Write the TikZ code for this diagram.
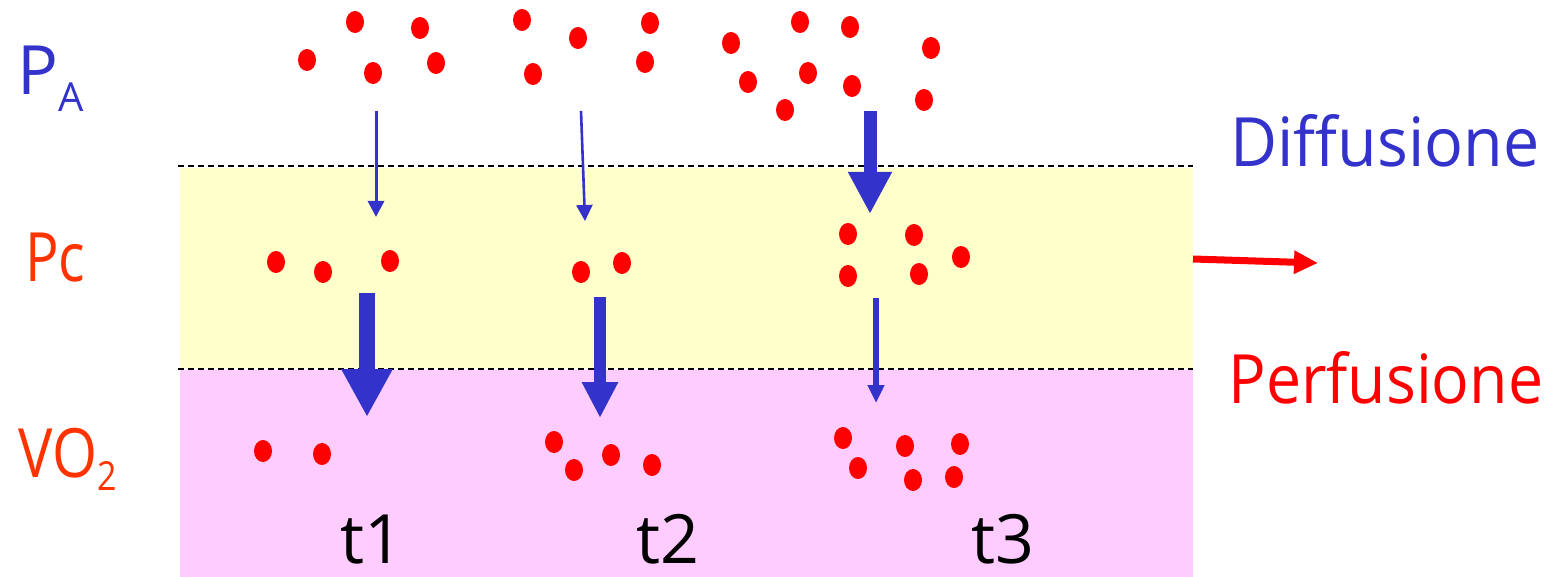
\documentclass[tikz,border=0pt]{standalone}
\usepackage{fontspec}
\setmainfont{Open Sans}
\usetikzlibrary{arrows.meta}
\definecolor{myblue}{HTML}{3333CC}
\definecolor{myred}{HTML}{FF0000}
\definecolor{myorange}{HTML}{FF3300}
\definecolor{myyellow}{HTML}{FFFFCC}
\definecolor{mypink}{HTML}{FFCCFF}
\tikzset{
  dot/.style={fill=myred},
  lbl/.style={anchor=base west, inner sep=0pt, text depth=0pt, font=\fontsize{34}{34}\selectfont},
  sep/.style={dashed, line width=0.6pt, dash pattern=on 3pt off 2pt},
}
\newcommand{\rdot}[2]{\fill[dot] (#1,#2) ellipse [x radius=9, y radius=11];}
\begin{document}
\begin{tikzpicture}[x=0.5pt,y=-0.5pt]
\path[use as bounding box] (0,0) rectangle (1552,577);
% bands
\fill[myyellow] (180,168) rectangle (1193,368);
\fill[mypink] (180,370) rectangle (1193,577);
\draw[sep] (178,166) -- (1193,166);
\draw[sep] (178,369) -- (1193,369);
% dots top
\foreach \x/\y in {355/22,420/28,307/60,373/73,436/63,
  522/20,578/38,650/23,533/74,645/62,
  731/43,800/22,850/27,931/48,748/82,808/73,852/86,785/110,924/100}
  {\rdot{\x}{\y}}
% dots Pc
\foreach \x/\y in {276/262,323/272,390/261,581/272,622/263,
  848/234,914/235,961/257,848/276,919/274}
  {\rdot{\x}{\y}}
% dots VO2
\foreach \x/\y in {263/451,322/454,554/442,574/470,611/455,652/465,
  843/438,905/446,960/444,858/468,913/480,954/477}
  {\rdot{\x}{\y}}
% arrow coordinates
\coordinate (a1s) at (376,111); \coordinate (a1e) at (376,217);
\coordinate (a2s) at (581,111); \coordinate (a2e) at (585,221);
\coordinate (a3s) at (870,111); \coordinate (a3e) at (870,214);
\coordinate (b1s) at (367,293); \coordinate (b1e) at (367,417);
\coordinate (b2s) at (600,297); \coordinate (b2e) at (600,418);
\coordinate (b3s) at (876,298); \coordinate (b3e) at (876,403);
\coordinate (rs) at (1193,259); \coordinate (re) at (1318,263);
\draw[myblue, line width=1.5pt, -{Triangle[width=8pt,length=8pt]}] (a1s) -- (a1e);
\draw[myblue, line width=1.3pt, -{Triangle[width=8pt,length=8pt]}] (a2s) -- (a2e);
\draw[myblue, line width=6.5pt, -{Triangle[width=20.5pt,length=21pt]}] (a3s) -- (a3e);
\draw[myblue, line width=8pt, -{Triangle[width=24pt,length=24pt]}] (b1s) -- (b1e);
\draw[myblue, line width=6pt, -{Triangle[width=17pt,length=18pt]}] (b2s) -- (b2e);
\draw[myblue, line width=3pt, -{Triangle[width=8pt,length=9pt]}] (b3s) -- (b3e);
\draw[myred, line width=3.5pt, -{Triangle[width=11pt,length=12pt]}] (rs) -- (re);
% labels
\node[lbl, text=myblue] (pa) at (17,95) {P{\fontsize{20}{20}\selectfont\raisebox{-8.5pt}{A}}};
\node[lbl, text=myorange] (pc) at (25,281) {\scalebox{0.82}[1]{Pc}};
\node[lbl, text=myorange] (vo) at (18,477) {\scalebox{0.85}[1]{VO{\fontsize{20}{20}\selectfont\raisebox{-6.5pt}{2}}}};
\node[lbl, text=myblue] (dif) at (1230,167) {\scalebox{0.95}[1]{Diffusione}};
\node[lbl, text=myred] (per) at (1228,403) {\scalebox{0.92}[1]{Perfusione}};
\node[lbl] (t1) at (340,563) {t1};
\node[lbl] (t2) at (636,563) {t2};
\node[lbl] (t3) at (971,563) {t3};
\end{tikzpicture}
\end{document}
